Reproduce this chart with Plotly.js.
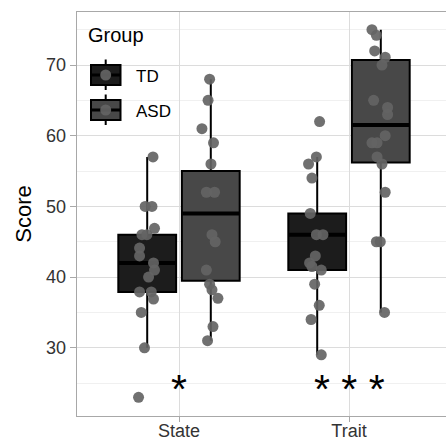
<!DOCTYPE html>
<html>
<head>
<meta charset="utf-8">
<script src="https://cdn.plot.ly/plotly-3.0.1.min.js"></script>
<style>html,body{margin:0;padding:0;overflow:hidden;background:#fff}#chart{width:446px;height:442px}</style>
</head>
<body>
<div id="chart"></div>
<script>
// ---- data ----
const categories = ['State', 'Trait'];
const groups = ['TD', 'ASD'];

// individual scores
const stateTD  = [57, 50, 50, 46.9, 46, 46, 44.1, 43, 42, 41, 40, 37.9, 37.9, 36.9, 35, 30, 23];
const stateASD = [68, 65, 61, 59, 56, 52, 52, 46, 45, 41, 39, 38.2, 37, 33, 31];
const traitTD  = [62, 57, 56, 54, 49, 46, 46, 43, 42, 41.5, 41, 39, 36, 34, 29];
const traitASD = [75, 74.2, 72, 71.1, 70, 65, 64, 63, 60, 59, 59, 57, 56, 52, 45, 45, 35];

// horizontal jitter of each point (category units)
const jitStateTD  = [0.034, -0.012, 0.028, 0.043, -0.031, -0.002, -0.045, -0.045, 0.037, 0.043, 0.008, -0.045, 0.024, 0.037, -0.035, -0.016, -0.051];
const jitStateASD = [-0.007, -0.016, -0.052, 0.016, 0.001, -0.026, 0.022, 0.007, 0.026, -0.026, -0.007, 0.007, 0.042, 0.013, -0.019];
const jitTraitTD  = [0.014, -0.005, -0.051, -0.031, -0.041, -0.005, 0.034, -0.011, -0.045, -0.031, 0.024, -0.015, 0.012, -0.036, 0.024];
const jitTraitASD = [-0.052, -0.026, -0.036, 0.026, 0.007, -0.042, 0.04, 0.04, 0.026, -0.022, -0.052, -0.022, 0.007, 0.026, -0.026, -0.003, 0.022];

// box statistics per category [State, Trait]
const tdQ1 = [37.9, 41],   tdMed = [42, 46],   tdQ3 = [46, 49],     tdLo = [30, 29], tdHi = [57, 57];
const asdQ1 = [39.5, 56.2], asdMed = [49, 61.5], asdQ3 = [55, 70.7], asdLo = [31, 35], asdHi = [68, 75];

const significance = ['*', '* * *'];
const yTicks = [30, 40, 50, 60, 70];

// ---- styling ----
const FONT = 'Liberation Sans, Arial, Helvetica, sans-serif';
const tdFill = '#1c1c1c', asdFill = '#484848';
const ptColor = 'rgba(100,100,100,0.92)';
const DODGE = 0.187, BOXW = 0.34;
const catPos = categories.map((c, i) => i);

function boxTrace(offset, q1, med, q3, lo, hi, fill) {
  return {
    type: 'box', x: catPos.map(p => p + offset), q1: q1, median: med, q3: q3,
    lowerfence: lo, upperfence: hi, width: BOXW, whiskerwidth: 0,
    fillcolor: fill, line: {color: '#000', width: 2}, boxpoints: false,
    showlegend: false, hoverinfo: 'skip'
  };
}
function medianTrace(offset, med) {
  const xs = [], ys = [];
  catPos.forEach((p, i) => { xs.push(p + offset - BOXW / 2, p + offset + BOXW / 2, null); ys.push(med[i], med[i], null); });
  return {type: 'scatter', mode: 'lines', x: xs, y: ys, line: {color: '#000', width: 4}, showlegend: false, hoverinfo: 'skip'};
}
function pointTrace(center, vals, jit) {
  return {
    type: 'scatter', mode: 'markers', x: vals.map((v, i) => center + jit[i]), y: vals,
    marker: {color: ptColor, size: 11, line: {width: 0}}, showlegend: false, hoverinfo: 'skip'
  };
}

const traces = [
  boxTrace(-DODGE, tdQ1, tdMed, tdQ3, tdLo, tdHi, tdFill),
  boxTrace(DODGE, asdQ1, asdMed, asdQ3, asdLo, asdHi, asdFill),
  medianTrace(-DODGE, tdMed),
  medianTrace(DODGE, asdMed),
  pointTrace(catPos[0] - DODGE, stateTD, jitStateTD),
  pointTrace(catPos[0] + DODGE, stateASD, jitStateASD),
  pointTrace(catPos[1] - DODGE, traitTD, jitTraitTD),
  pointTrace(catPos[1] + DODGE, traitASD, jitTraitASD)
];

// plot area in pixels
const L = 77, T = 12, W = 369, H = 404;
const px = x => (x - L) / W;
const py = y => (T + H - y) / H;

// custom legend (ggplot style keys)
const shapes = [];
const annotations = [];
[[75, tdFill], [110, asdFill]].forEach(([cy, fill], i) => {
  shapes.push({type: 'line', xref: 'paper', yref: 'paper', x0: px(105.7), x1: px(105.7), y0: py(cy - 15.5), y1: py(cy + 15), line: {color: '#000', width: 2}});
  shapes.push({type: 'rect', xref: 'paper', yref: 'paper', x0: px(91), x1: px(120.5), y0: py(cy - 10), y1: py(cy + 10), fillcolor: fill, line: {color: '#000', width: 2}});
  shapes.push({type: 'line', xref: 'paper', yref: 'paper', x0: px(91), x1: px(120.5), y0: py(cy), y1: py(cy), line: {color: '#000', width: 3}});
  shapes.push({type: 'circle', xref: 'paper', yref: 'paper', x0: px(100.2), x1: px(111.2), y0: py(cy - 5.5), y1: py(cy + 5.5), fillcolor: ptColor, line: {width: 0}});
  annotations.push({xref: 'paper', yref: 'paper', x: px(134), y: py(cy + 1), xanchor: 'left', yanchor: 'middle', showarrow: false,
    text: groups[i], font: {family: FONT, size: 17, color: '#000'}});
});
annotations.push({xref: 'paper', yref: 'paper', x: px(86), y: py(35), xanchor: 'left', yanchor: 'middle', showarrow: false,
  text: 'Group', font: {family: FONT, size: 20, color: '#000'}});
significance.forEach((s, i) => {
  annotations.push({x: catPos[i], y: 24.2, xref: 'x', yref: 'y', showarrow: false, xanchor: 'center', yanchor: 'middle',
    text: s, font: {family: FONT, size: 41, color: '#000'}});
});

const layout = {
  width: 446, height: 442,
  margin: {l: L, r: 446 - L - W, t: T, b: 442 - T - H, pad: 0},
  paper_bgcolor: '#fff', plot_bgcolor: '#fff',
  font: {family: FONT},
  showlegend: false,
  xaxis: {
    range: [-0.6, -0.6 + W / 170], tickvals: catPos, ticktext: categories,
    showgrid: true, gridcolor: '#dcdcdc', gridwidth: 1, zeroline: false,
    showline: true, mirror: true, linecolor: '#a8a8a8', linewidth: 1.3,
    ticks: 'outside', ticklen: 5, tickcolor: '#a8a8a8', tickwidth: 1,
    ticklabelstandoff: -7,
    tickfont: {family: FONT, size: 18, color: '#333'}, fixedrange: true
  },
  yaxis: {
    range: [20.35, 77.5], tickvals: yTicks,
    showgrid: true, gridcolor: '#dcdcdc', gridwidth: 1, zeroline: false,
    minor: {dtick: 5, tick0: 0, showgrid: true, gridcolor: '#e9e9e9', gridwidth: 0.7, ticks: ''},
    showline: true, mirror: false, linecolor: '#a8a8a8', linewidth: 1.3,
    ticks: 'outside', ticklen: 6, tickcolor: '#a8a8a8', tickwidth: 1,
    tickfont: {family: FONT, size: 18, color: '#333'},
    title: {text: 'Score', font: {family: FONT, size: 22, color: '#000'}, standoff: 8},
    fixedrange: true
  },
  shapes: shapes,
  annotations: annotations
};

Plotly.newPlot('chart', traces, layout, {displayModeBar: false, staticPlot: true});
</script>
</body>
</html>
